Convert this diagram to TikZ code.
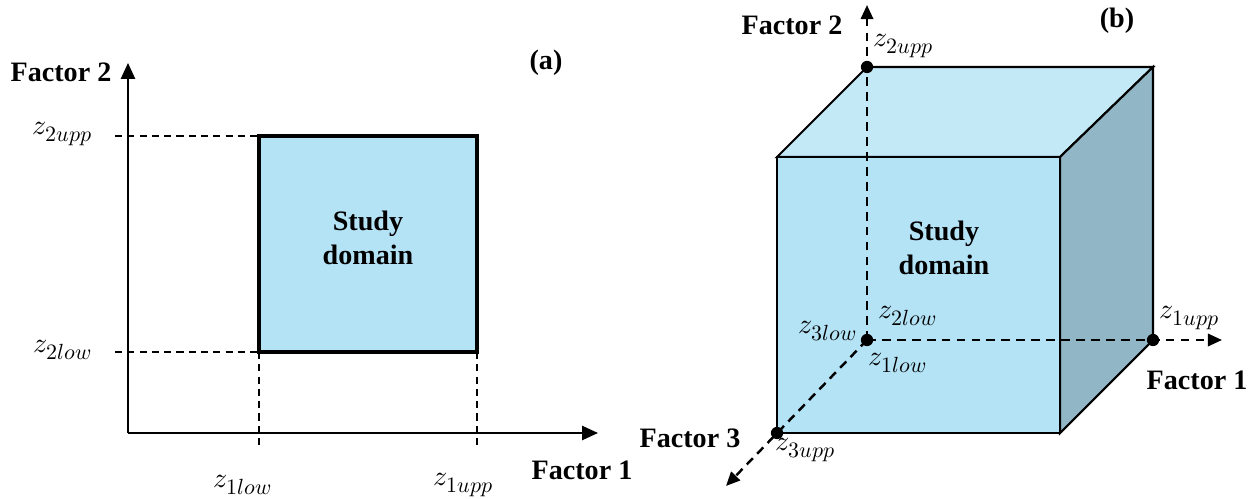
\documentclass[tikz,border=0pt]{standalone}
\usepackage{fontspec}
\usepackage{unicode-math}
\setmainfont{Liberation Serif}
\setmathfont{Latin Modern Math}
\DeclareMathSizes{16}{16}{12.5}{10}
\usetikzlibrary{arrows.meta}
\definecolor{feld}{HTML}{B4E3F6}
\definecolor{deckel}{HTML}{C3E9F7}
\definecolor{seite}{HTML}{91B7C7}
\tikzset{
  achse/.style={line width=1.1pt,-{Triangle[length=9pt,width=8pt]}},
  hilfslinie/.style={line width=0.6pt,dash pattern=on 4pt off 3pt},
  raumachse/.style={line width=1.4pt,dash pattern=on 5pt off 3.5pt,-{Triangle[length=8pt,width=7pt]}},
  kante/.style={line width=1.2pt,line join=miter},
  titel/.style={font=\fontsize{16}{19}\selectfont\bfseries},
  wert/.style={font=\fontsize{16}{19}\selectfont,inner sep=1pt},
  punkt/.style={circle,fill=black,inner sep=0pt,minimum size=7pt}
}
\begin{document}
\begin{tikzpicture}[x=0.02cm,y=-0.02cm]
  \useasboundingbox (0,0) rectangle (1257,499);
  % (a) die Ebene
  \coordinate (O) at (128,433);
  \coordinate (Yend) at (128,63);
  \coordinate (Xend) at (598,433);
  \draw[achse] (O) -- (Yend); % Faktor 2
  \draw[achse] (O) -- (Xend); % Faktor 1
  \coordinate (LU) at (259,352);
  \coordinate (RO) at (477,136);
  \coordinate (LO) at (259,136);
  \coordinate (RU) at (477,352);
  \draw[fill=feld,line width=2.6pt] (LU) rectangle (RO);
  \node[titel,align=center] (gebiet) at (368,238) {Study\\domain};
  % Hilfslinien
  \coordinate (t2upp) at (115,136);
  \coordinate (t2low) at (115,352);
  \coordinate (t1low) at (259,446);
  \coordinate (t1upp) at (477,446);
  \draw[hilfslinie] (t2upp) -- (LO);
  \draw[hilfslinie] (t2low) -- (LU);
  \draw[hilfslinie] (LU) -- (t1low);
  \draw[hilfslinie] (RU) -- (t1upp);
  \node[wert] (z2upp) at (63,134) {$z_{2upp}$};
  \node[wert] (z2low) at (63,350) {$z_{2low}$};
  \node[wert] (z1low) at (243,485) {$z_{1low}$};
  \node[wert] (z1upp) at (464,485) {$z_{1upp}$};
  \node[titel] (f2a) at (61,72) {Factor 2};
  \node[titel] (f1a) at (582,470) {Factor 1};
  \node[titel] (a) at (546,63) {(a)};
  % (b) der Wuerfel
  \coordinate (A) at (777,157);
  \coordinate (B) at (1060,157);
  \coordinate (C) at (1060,433);
  \coordinate (D) at (777,433);
  \coordinate (E) at (867,67);
  \coordinate (F) at (1153,67);
  \coordinate (G) at (1153,340);
  \coordinate (H) at (867,340);
  \draw[kante,fill=deckel] (A) -- (E) -- (F) -- (B) -- cycle;
  \draw[kante,fill=seite] (B) -- (F) -- (G) -- (C) -- cycle;
  \draw[kante,fill=feld] (A) -- (B) -- (C) -- (D) -- cycle;
  \node[titel,align=center] (gebiet3) at (944,248) {Study\\domain};
  % Achsen durch den Wuerfel
  \coordinate (Y3) at (867,5);
  \coordinate (X3) at (1222,340);
  \coordinate (Z3) at (726,486);
  \draw[raumachse] (H) -- (Y3);
  \draw[raumachse] (H) -- (X3);
  \draw[raumachse] (H) -- (Z3);
  \node[punkt] (pE) at (E) {};
  \node[punkt] (pH) at (H) {};
  \node[punkt] (pG) at (G) {};
  \node[punkt] (pD) at (D) {};
  \node[wert] (z2uppb) at (904,46) {$z_{2upp}$};
  \node[wert] (z2lowb) at (908,316) {$z_{2low}$};
  \node[wert] (z3lowb) at (828,331) {$z_{3low}$};
  \node[wert] (z1lowb) at (898,363) {$z_{1low}$};
  \node[wert] (z1uppb) at (1190,318) {$z_{1upp}$};
  \node[wert] (z3uppb) at (806,450) {$z_{3upp}$};
  \node[titel] (f2b) at (792,25) {Factor 2};
  \node[titel] (f1b) at (1197,380) {Factor 1};
  \node[titel] (f3b) at (690,438) {Factor 3};
  \node[titel] (b) at (1117,21) {(b)};
\end{tikzpicture}
\end{document}
